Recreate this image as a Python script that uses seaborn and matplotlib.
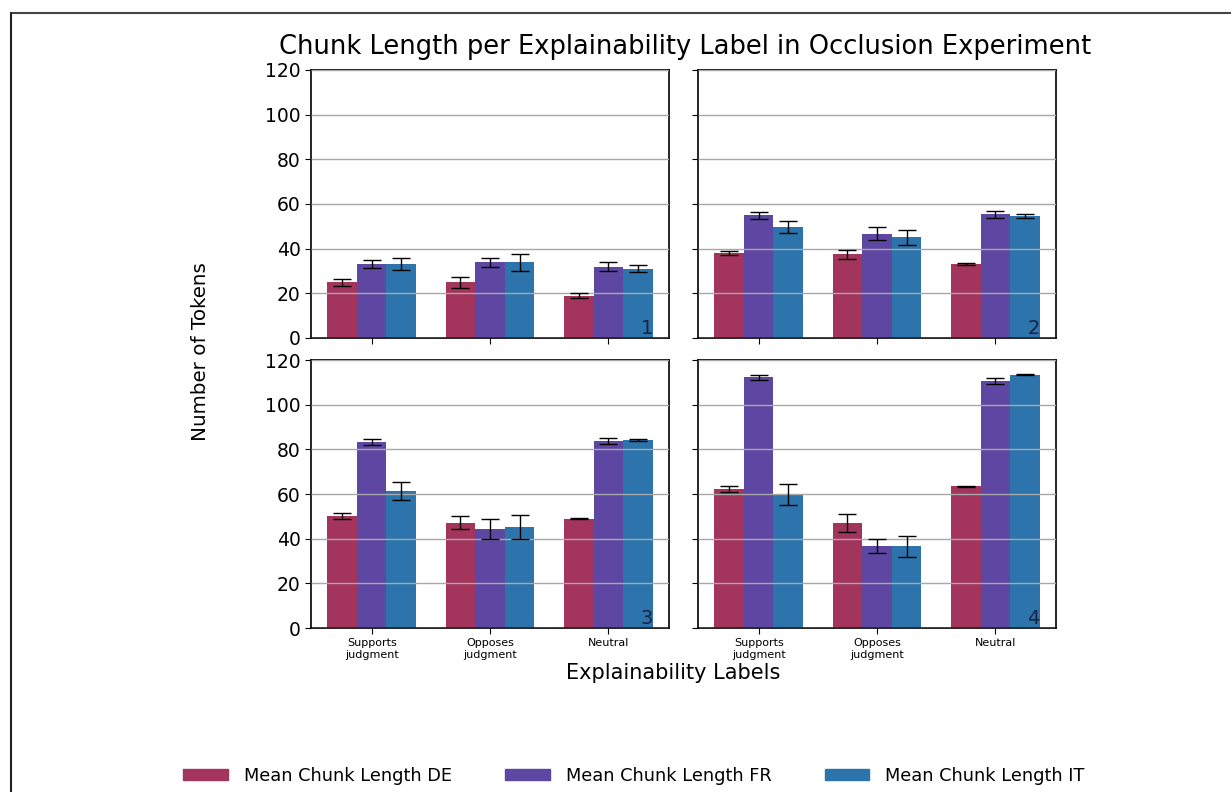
import matplotlib
matplotlib.use("Agg")
import matplotlib.pyplot as plt
from matplotlib.lines import Line2D
import pandas as pd
import seaborn as sns

# labels
categories = ["Supports\njudgment", "Opposes\njudgment", "Neutral"]
languages = ["Mean Chunk Length DE", "Mean Chunk Length FR", "Mean Chunk Length IT"]
colors = ["#a3345c", "#5e47a3", "#2c74ab"]

# mean chunk length per panel, order: DE, FR, IT x (supports, opposes, neutral)
means_1 = [[25, 25, 19], [33, 34, 32], [33, 34, 31]]
errs_1 = [[1.5, 2.4, 1.0], [1.8, 2.0, 2.0], [2.7, 3.8, 1.5]]
means_2 = [[38, 37.5, 33], [55, 46.7, 55.3], [49.7, 45, 54.6]]
errs_2 = [[1.0, 2.0, 0.5], [1.5, 2.8, 1.5], [2.7, 3.3, 1.0]]
means_3 = [[50, 47.2, 49], [83.3, 44.5, 83.6], [61.4, 45.3, 84.1]]
errs_3 = [[1.3, 3.0, 0.3], [1.5, 4.5, 1.3], [4.0, 5.3, 0.5]]
means_4 = [[62.3, 47.2, 63.5], [112.2, 36.7, 110.6], [59.9, 36.7, 113.5]]
errs_4 = [[1.2, 4.0, 0.3], [1.0, 3.0, 1.4], [4.8, 4.7, 0.3]]

panels = [(means_1, errs_1), (means_2, errs_2), (means_3, errs_3), (means_4, errs_4)]

sns.set_style("ticks")
plt.rcParams["font.family"] = ["DejaVu Sans"]
plt.rcParams["text.color"] = "black"
plt.rcParams["xtick.color"] = "black"
plt.rcParams["ytick.color"] = "black"

fig = plt.figure(figsize=(12.31, 7.92), dpi=100)

W, H = 1231, 792
boxes = [(311, 70), (698, 70), (311, 360), (698, 360)]
aw, ah = 358, 268

for i, (means, errs) in enumerate(panels):
    x0, y0 = boxes[i]
    ax = fig.add_axes([x0 / W, 1 - (y0 + ah) / H, aw / W, ah / H])
    rows = []
    for li, lang in enumerate(languages):
        for ci, cat in enumerate(categories):
            rows.append({"label": cat, "lang": lang, "value": means[li][ci], "err": errs[li][ci]})
    df = pd.DataFrame(rows)
    sns.barplot(data=df, x="label", y="value", hue="lang", order=categories,
                hue_order=languages, palette=colors, width=0.75, errorbar=None,
                saturation=1, legend=False, linewidth=0, ax=ax)
    # error bars at bar centres
    bars = [p for p in ax.patches][: len(df)]
    xs = [b.get_x() + b.get_width() / 2 for b in bars]
    ax.errorbar(xs, df["value"], yerr=df["err"], fmt="none", ecolor="black",
                elinewidth=1, capsize=6.5, capthick=1, zorder=4)
    ax.set_ylim(0, 120)
    ax.set_yticks(range(0, 121, 20))
    ax.yaxis.grid(True, color="#a8a8a8", lw=1, zorder=3)
    ax.set_axisbelow(False)
    ax.set_xlabel("")
    ax.set_ylabel("")
    ax.tick_params(axis="y", labelsize=13.5, length=4, colors="black")
    ax.tick_params(axis="x", labelsize=8, length=4, colors="black")
    for s in ax.spines.values():
        s.set_color("black")
        s.set_linewidth(1.2)
    if i < 2:
        ax.set_xticklabels([])
    if i % 2 == 1:
        ax.set_yticklabels([])
    ax.text(0.955, 0.0, str(i + 1), transform=ax.transAxes, ha="right", va="bottom",
            fontsize=14, color="#1c2140", zorder=5)

fig.text(0.5565, 1 - 47 / H, "Chunk Length per Explainability Label in Occlusion Experiment",
         ha="center", va="center", fontsize=18.5)
fig.text(0.547, 1 - 673 / H, "Explainability Labels", ha="center", va="center", fontsize=15)
fig.text(200 / W, 1 - 352 / H, "Number of Tokens", ha="center", va="center",
         rotation=90, fontsize=14.3)

handles = [plt.Rectangle((0, 0), 1, 1, color=c) for c in colors]
fig.legend(handles, languages, loc="center", bbox_to_anchor=(0.515, 1 - 776 / H),
           ncol=3, frameon=False, fontsize=12.8, handlelength=2.5, handleheight=0.6,
           columnspacing=3.0, handletextpad=0.9)

# page frame
fig.add_artist(Line2D([11 / W, 1], [1 - 13 / H, 1 - 13 / H], color="#444444", lw=1.5))
fig.add_artist(Line2D([11 / W, 11 / W], [0, 1 - 13 / H], color="#222222", lw=1.5))

fig.savefig("out.png", dpi=100)
